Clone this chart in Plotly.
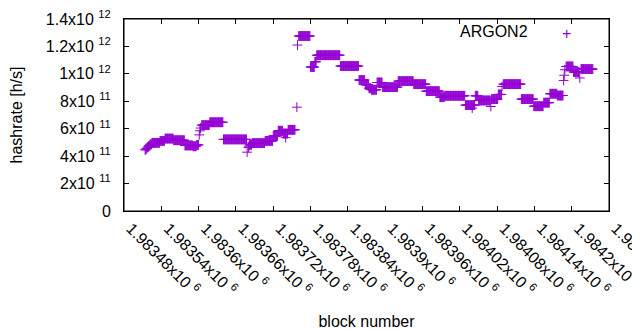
import plotly.graph_objects as go

# Plateaus of the hashrate: first block, last block, hashrate [h/s]
seg_start = [1983514, 1983516, 1983518, 1983520, 1983522, 1983525, 1983538, 1983546,
             1983560, 1983578, 1983591, 1983597, 1983605, 1983618, 1983640, 1983682,
             1983686, 1983707, 1983720, 1983728, 1983736, 1983744, 1983761, 1983780,
             1983787, 1983790, 1983828, 1983858, 1983868, 1983874, 1983878, 1983887,
             1983896, 1983921, 1983946, 1983966, 1983988, 1983996, 1984029, 1984045,
             1984050, 1984071, 1984082, 1984090, 1984119, 1984139, 1984155, 1984165,
             1984177, 1984191, 1984203, 1984215]
seg_end = [1983515, 1983517, 1983519, 1983521, 1983524, 1983537, 1983545, 1983559,
           1983577, 1983590, 1983596, 1983600, 1983617, 1983639, 1983677, 1983685,
           1983706, 1983719, 1983727, 1983735, 1983743, 1983755, 1983779, 1983786,
           1983789, 1983827, 1983857, 1983867, 1983873, 1983877, 1983886, 1983895,
           1983920, 1983945, 1983965, 1983987, 1983995, 1984028, 1984044, 1984049,
           1984069, 1984081, 1984087, 1984118, 1984138, 1984154, 1984164, 1984176,
           1984186, 1984202, 1984212, 1984234]
seg_value = [4.46e11, 4.56e11, 4.66e11, 4.76e11, 4.86e11, 4.97e11, 5.11e11, 5.28e11,
             5.16e11, 4.78e11, 4.72e11, 4.82e11, 6.26e11, 6.47e11, 5.22e11, 4.82e11,
             4.95e11, 5.11e11, 5.48e11, 5.85e11, 5.65e11, 5.92e11, 12.76e11, 10.5e11,
             10.88e11, 11.36e11, 10.57e11, 9.55e11, 9.2e11, 8.95e11, 8.84e11, 9.37e11,
             9.03e11, 9.47e11, 9.25e11, 8.74e11, 8.3e11, 8.4e11, 7.72e11, 8.4e11,
             8.06e11, 8.16e11, 8.5e11, 9.25e11, 8.16e11, 7.64e11, 7.9e11, 8.55e11,
             8.42e11, 10.54e11, 10.13e11, 10.35e11]

# Isolated blocks
pt_block = [1983601, 1983602, 1983603, 1983678, 1983680, 1983681, 1983740, 1983758,
            1983759, 1984040, 1984070, 1984088, 1984187, 1984188, 1984189, 1984213]
pt_value = [5.55e11, 5.85e11, 6.05e11, 4.29e11, 4.62e11, 4.72e11, 5.35e11, 7.57e11,
            12.1e11, 7.5e11, 7.62e11, 9.08e11, 9.52e11, 9.9e11, 10.3e11, 9.7e11]

x_tick_vals = [1983480, 1983540, 1983600, 1983660, 1983720, 1983780, 1983840,
               1983900, 1983960, 1984020, 1984080, 1984140, 1984200, 1984260]
x_tick_text = ["1.98348x10 <sup>6</sup>", "1.98354x10 <sup>6</sup>", "1.9836x10 <sup>6</sup>",
               "1.98366x10 <sup>6</sup>", "1.98372x10 <sup>6</sup>", "1.98378x10 <sup>6</sup>",
               "1.98384x10 <sup>6</sup>", "1.9839x10 <sup>6</sup>", "1.98396x10 <sup>6</sup>",
               "1.98402x10 <sup>6</sup>", "1.98408x10 <sup>6</sup>", "1.98414x10 <sup>6</sup>",
               "1.9842x10 <sup>6</sup>", "1.98426x10 <sup>6</sup>"]
y_tick_vals = [0, 2e11, 4e11, 6e11, 8e11, 1e12, 1.2e12, 1.4e12]
y_tick_text = ["0", "2x10 <sup>11</sup>", "4x10 <sup>11</sup>", "6x10 <sup>11</sup>",
               "8x10 <sup>11</sup>", "1x10 <sup>12</sup>", "1.2x10 <sup>12</sup>",
               "1.4x10 <sup>12</sup>"]

blocks = []
rates = []
for s, e, v in zip(seg_start, seg_end, seg_value):
    for b in range(s, e + 1):
        blocks.append(b)
        rates.append(v)
blocks += pt_block
rates += pt_value

COLOR = "#9400D3"
FONT = "Liberation Sans, Arial, sans-serif"
FS = 16

fig = go.Figure()
fig.add_trace(go.Scatter(
    x=blocks, y=rates, mode="markers", name="ARGON2", showlegend=False,
    marker=dict(symbol="cross-thin", size=7, color=COLOR,
                line=dict(width=1, color=COLOR)),
))

axis_common = dict(
    showline=True, linecolor="black", linewidth=1, mirror="ticks",
    ticks="inside", ticklen=5, tickwidth=1, tickcolor="black",
    showgrid=False, zeroline=False, automargin=False,
    ticklabeloverflow="allow",
    tickfont=dict(family=FONT, size=FS, color="black"),
)

# page body has an 8px margin; plot area lands at x 124-609, y 19-211 of the window
fig.update_layout(
    width=632, height=322,
    margin=dict(l=116, r=31, t=11, b=119),
    paper_bgcolor="white", plot_bgcolor="white",
    font=dict(family=FONT, size=FS, color="black"),
    xaxis=dict(range=[1983480, 1984260], tickvals=x_tick_vals, ticktext=x_tick_text,
               tickangle=45, ticklabelstandoff=1, ticklabelshift=7,
               title=dict(text="block number", font=dict(family=FONT, size=FS), standoff=25),
               **axis_common),
    yaxis=dict(range=[0, 1.4e12], tickvals=y_tick_vals, ticktext=y_tick_text,
               ticklabelstandoff=9,
               title=dict(text="hashrate [h/s]", font=dict(family=FONT, size=FS), standoff=27),
               **axis_common),
    shapes=[dict(type="rect", xref="paper", yref="paper", x0=0, x1=1, y0=0, y1=1,
                 line=dict(color="black", width=1), fillcolor="rgba(0,0,0,0)",
                 layer="above")],
    annotations=[
        dict(x=0.837, y=0.934, xref="paper", yref="paper", text="ARGON2",
             showarrow=False, xanchor="right", yanchor="middle",
             font=dict(family=FONT, size=FS, color="black")),
        dict(x=0.9134, y=0.927, xref="paper", yref="paper", text="+",
             showarrow=False, xanchor="center", yanchor="middle",
             font=dict(family=FONT, size=FS, color=COLOR)),
    ],
)

fig.write_html("out.html")
